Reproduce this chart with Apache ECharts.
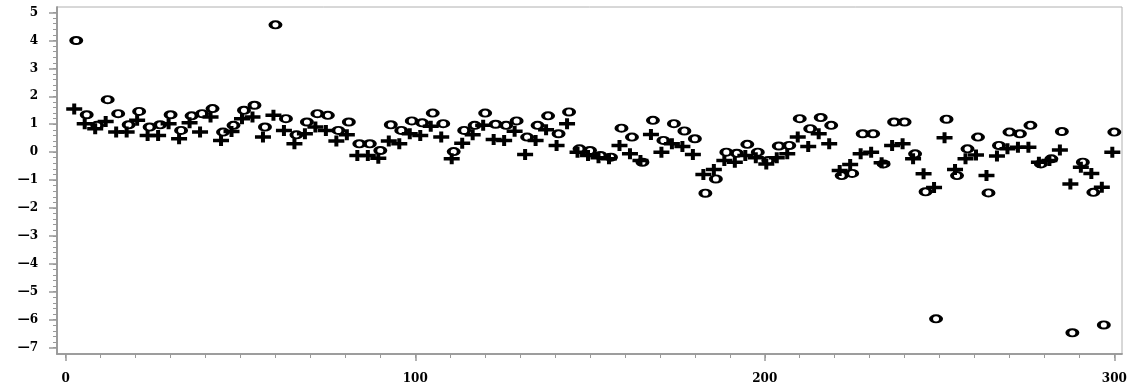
<!DOCTYPE html>
<html>
<head>
<meta charset="utf-8">
<script src="https://cdn.jsdelivr.net/npm/echarts@6/dist/echarts.min.js"></script>
<style>
html,body{margin:0;padding:0;background:#fff;}
#c{width:1131px;height:386px;}
</style>
</head>
<body>
<div id="c"></div>
<script>
const xValues = [3,6,9,12,15,18,21,24,27,30,33,36,39,42,45,48,51,54,57,60,
63,66,69,72,75,78,81,84,87,90,93,96,99,102,105,108,111,114,117,120,
123,126,129,132,135,138,141,144,147,150,153,156,159,162,165,168,171,174,177,180,
183,186,189,192,195,198,201,204,207,210,213,216,219,222,225,228,231,234,237,240,
243,246,249,252,255,258,261,264,267,270,273,276,279,282,285,288,291,294,297,300];

const oValues = [
4.0, 1.34, 0.96, 1.88, 1.38, 0.98, 1.46, 0.9, 0.98, 1.34,
0.78, 1.3, 1.38, 1.56, 0.72, 0.96, 1.5, 1.68, 0.9, 4.56,
1.2, 0.62, 1.08, 1.38, 1.32, 0.78, 1.08, 0.3, 0.3, 0.06,
0.98, 0.78, 1.12, 1.05, 1.4, 1.02, 0.02, 0.78, 0.96, 1.4,
1.0, 0.96, 1.12, 0.54, 0.96, 1.3, 0.66, 1.44, 0.12, 0.06,
-0.12, -0.18, 0.86, 0.54, -0.36, 1.14, 0.42, 1.02, 0.76, 0.48,
-1.47, -0.96, 0.0, -0.04, 0.28, 0.0, -0.3, 0.22, 0.24, 1.2,
0.84, 1.24, 0.96, -0.84, -0.76, 0.66, 0.66, -0.42, 1.08, 1.08,
-0.06, -1.42, -5.97, 1.18, -0.84, 0.12, 0.54, -1.46, 0.24, 0.72,
0.66, 0.96, -0.42, -0.24, 0.74, -6.47, -0.36, -1.44, -6.19, 0.72];

const plusValues = [
1.55, 1.02, 0.84, 1.1, 0.72, 0.72, 1.14, 0.6, 0.6, 1.02,
0.48, 1.05, 0.72, 1.26, 0.42, 0.74, 1.2, 1.26, 0.54, 1.32,
0.78, 0.3, 0.66, 0.9, 0.78, 0.4, 0.62, -0.12, -0.12, -0.22,
0.4, 0.3, 0.66, 0.6, 0.93, 0.54, -0.24, 0.32, 0.62, 0.96,
0.45, 0.42, 0.75, -0.08, 0.42, 0.8, 0.24, 1.02, 0.0, -0.12,
-0.2, -0.24, 0.24, -0.06, -0.3, 0.63, 0.0, 0.3, 0.2, -0.08,
-0.8, -0.62, -0.3, -0.36, -0.12, -0.2, -0.42, -0.2, -0.06, 0.54,
0.2, 0.66, 0.3, -0.66, -0.44, -0.06, 0.0, -0.38, 0.24, 0.3,
-0.24, -0.77, -1.27, 0.52, -0.62, -0.24, -0.1, -0.84, -0.14, 0.12,
0.18, 0.18, -0.36, -0.3, 0.08, -1.14, -0.54, -0.76, -1.26, 0.0];

const xTickLabels = [0, 100, 200, 300];
const yTickLabels = [-7, -6, -5, -4, -3, -2, -1, 0, 1, 2, 3, 4, 5];

// all tick positions (major + minor) for the short-tick axes
const xAllTicks = [];
for (let v = 0; v <= 300; v += 10) xAllTicks.push(v);
const yAllTicks = [];
for (let i = -35; i <= 25; i++) yAllTicks.push(+(i * 0.2).toFixed(1));

const X_MIN = -2.5, X_MAX = 302.2, Y_MIN = -7.23, Y_MAX = 5.2;
const AX = '#999999';
const FONT = {fontFamily: 'DejaVu Serif', fontWeight: 'bold', fontSize: 12, color: '#000'};
const fmt = v => (v < 0 ? '\u2014' + Math.abs(v) : String(v));

const oPath = 'path://M0,4.5 A7,4.5 0 1,1 14,4.5 A7,4.5 0 1,1 0,4.5 Z M4,4.5 A3,2.6 0 1,0 10,4.5 A3,2.6 0 1,0 4,4.5 Z';
const plusPath = 'path://M0,3.75 L6,3.75 L6,0 L10,0 L10,3.75 L16,3.75 L16,7.25 L10,7.25 L10,11 L6,11 L6,7.25 L0,7.25 Z';

const chart = echarts.init(document.getElementById('c'), null, {renderer: 'canvas'});
chart.setOption({
  animation: false,
  backgroundColor: '#fff',
  grid: {left: 57, right: 9, top: 7, bottom: 32, show: true, borderColor: '#b0b0b0', borderWidth: 1, backgroundColor: 'transparent'},
  xAxis: [
    {type: 'value', min: X_MIN, max: X_MAX, position: 'bottom',
     axisLine: {show: true, onZero: false, lineStyle: {color: AX, width: 1.5}},
     axisTick: {show: true, customValues: xTickLabels, length: 7, lineStyle: {color: AX, width: 1.5}},
     axisLabel: Object.assign({customValues: xTickLabels, margin: 19, formatter: fmt}, FONT),
     splitLine: {show: false}},
    {type: 'value', min: X_MIN, max: X_MAX, position: 'bottom', offset: 0,
     axisLine: {show: true, onZero: false, lineStyle: {color: AX, width: 1.5}},
     axisTick: {show: true, customValues: xAllTicks, length: 4, lineStyle: {color: AX, width: 1}},
     axisLabel: {show: false}, splitLine: {show: false}}
  ],
  yAxis: [
    {type: 'value', min: Y_MIN, max: Y_MAX, position: 'left',
     axisLine: {show: true, onZero: false, lineStyle: {color: AX, width: 1.5}},
     axisTick: {show: true, customValues: yTickLabels, length: 8, lineStyle: {color: AX, width: 1.5}},
     axisLabel: Object.assign({customValues: yTickLabels, margin: 19, formatter: fmt}, FONT),
     splitLine: {show: false}},
    {type: 'value', min: Y_MIN, max: Y_MAX, position: 'left', offset: 0,
     axisLine: {show: true, onZero: false, lineStyle: {color: AX, width: 1.5}},
     axisTick: {show: true, customValues: yAllTicks, length: 4, lineStyle: {color: AX, width: 1}},
     axisLabel: {show: false}, splitLine: {show: false}}
  ],
  series: [
    {name: '+', type: 'scatter', xAxisIndex: 0, yAxisIndex: 0,
     symbol: plusPath, symbolSize: [16, 11], symbolOffset: [-2, 0],
     itemStyle: {color: '#000', opacity: 1},
     data: xValues.map((x, i) => [x, plusValues[i]])},
    {name: 'o', type: 'scatter', xAxisIndex: 0, yAxisIndex: 0,
     symbol: oPath, symbolSize: [14, 9],
     itemStyle: {color: '#000', opacity: 1},
     data: xValues.map((x, i) => [x, oValues[i]])}
  ]
});
</script>
</body>
</html>
